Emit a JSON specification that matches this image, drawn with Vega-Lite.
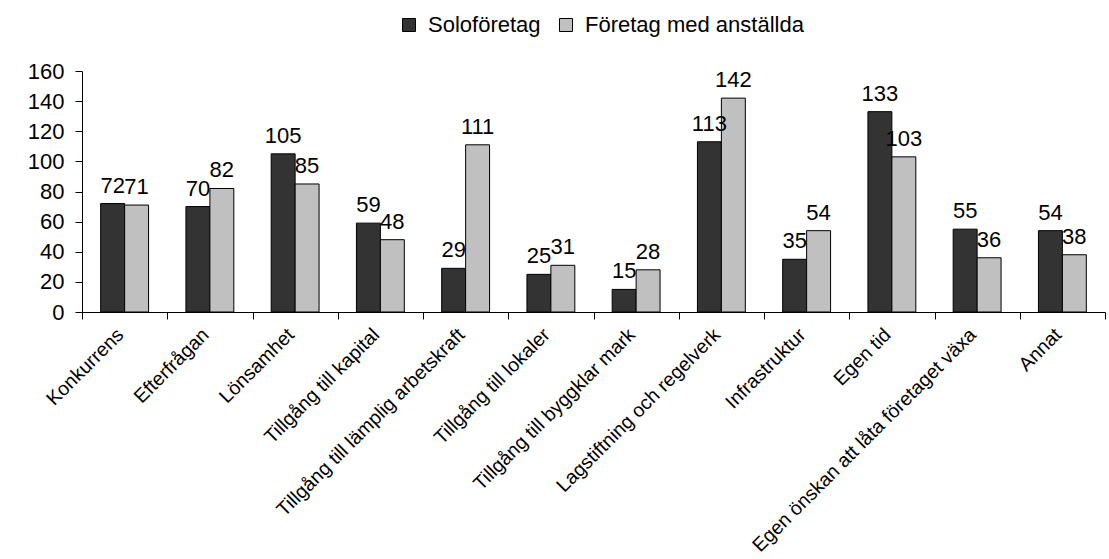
{
  "$schema": "https://vega.github.io/schema/vega-lite/v6.json",
  "width": 1023,
  "height": 241,
  "autosize": {"type": "none"},
  "padding": {"left": 82, "top": 71, "right": 4, "bottom": 247},
  "background": "white",
  "config": {
    "view": {"stroke": null},
    "font": "Liberation Sans",
    "axis": {"grid": false, "domainColor": "black", "tickColor": "black", "labelColor": "black", "labelFont": "Liberation Sans"},
    "legend": {"labelFont": "Liberation Sans"}
  },
  "data": {
    "values": [
      {"kategori": "Konkurrens", "grupp": "Soloföretag", "antal": 72},
      {"kategori": "Konkurrens", "grupp": "Företag med anställda", "antal": 71},
      {"kategori": "Efterfrågan", "grupp": "Soloföretag", "antal": 70},
      {"kategori": "Efterfrågan", "grupp": "Företag med anställda", "antal": 82},
      {"kategori": "Lönsamhet", "grupp": "Soloföretag", "antal": 105},
      {"kategori": "Lönsamhet", "grupp": "Företag med anställda", "antal": 85},
      {"kategori": "Tillgång till kapital", "grupp": "Soloföretag", "antal": 59},
      {"kategori": "Tillgång till kapital", "grupp": "Företag med anställda", "antal": 48},
      {"kategori": "Tillgång till lämplig arbetskraft", "grupp": "Soloföretag", "antal": 29},
      {"kategori": "Tillgång till lämplig arbetskraft", "grupp": "Företag med anställda", "antal": 111},
      {"kategori": "Tillgång till lokaler", "grupp": "Soloföretag", "antal": 25},
      {"kategori": "Tillgång till lokaler", "grupp": "Företag med anställda", "antal": 31},
      {"kategori": "Tillgång till byggklar mark", "grupp": "Soloföretag", "antal": 15},
      {"kategori": "Tillgång till byggklar mark", "grupp": "Företag med anställda", "antal": 28},
      {"kategori": "Lagstiftning och regelverk", "grupp": "Soloföretag", "antal": 113},
      {"kategori": "Lagstiftning och regelverk", "grupp": "Företag med anställda", "antal": 142},
      {"kategori": "Infrastruktur", "grupp": "Soloföretag", "antal": 35},
      {"kategori": "Infrastruktur", "grupp": "Företag med anställda", "antal": 54},
      {"kategori": "Egen tid", "grupp": "Soloföretag", "antal": 133},
      {"kategori": "Egen tid", "grupp": "Företag med anställda", "antal": 103},
      {"kategori": "Egen önskan att låta företaget växa", "grupp": "Soloföretag", "antal": 55},
      {"kategori": "Egen önskan att låta företaget växa", "grupp": "Företag med anställda", "antal": 36},
      {"kategori": "Annat", "grupp": "Soloföretag", "antal": 54},
      {"kategori": "Annat", "grupp": "Företag med anställda", "antal": 38}
    ]
  },
  "encoding": {
    "x": {
      "field": "kategori", "type": "nominal", "sort": null,
      "scale": {"paddingInner": 0, "paddingOuter": 0},
      "axis": {"title": null, "labelAngle": -45, "labelFontSize": 19.5, "tickBand": "extent", "tickSize": 7, "labelPadding": 6, "labelOffset": -11, "labelLimit": 0}
    },
    "xOffset": {
      "field": "grupp", "type": "nominal", "sort": ["Soloföretag", "Företag med anställda"],
      "scale": {"paddingInner": 0, "paddingOuter": 0.78}
    },
    "y": {
      "field": "antal", "type": "quantitative",
      "scale": {"domain": [0, 160], "nice": false},
      "axis": {"title": null, "values": [0, 20, 40, 60, 80, 100, 120, 140, 160], "labelFontSize": 22, "tickSize": 7, "labelPadding": 11}
    }
  },
  "layer": [
    {
      "mark": {"type": "bar", "stroke": "black", "strokeWidth": 1},
      "encoding": {
        "color": {
          "field": "grupp", "type": "nominal",
          "sort": ["Soloföretag", "Företag med anställda"],
          "scale": {"domain": ["Soloföretag", "Företag med anställda"], "range": ["#333333", "#c0c0c0"]},
          "legend": {
            "title": null, "orient": "none", "direction": "horizontal",
            "legendX": 316, "legendY": -57,
            "labelFontSize": 22, "labelLimit": 0, "symbolType": "square", "symbolSize": 169,
            "symbolStrokeColor": "black", "symbolStrokeWidth": 1,
            "labelOffset": 8, "columnPadding": 14
          }
        }
      }
    },
    {
      "mark": {"type": "text", "baseline": "alphabetic", "dy": -11, "fontSize": 22, "color": "black"},
      "encoding": {"text": {"field": "antal", "type": "quantitative"}}
    }
  ]
}
